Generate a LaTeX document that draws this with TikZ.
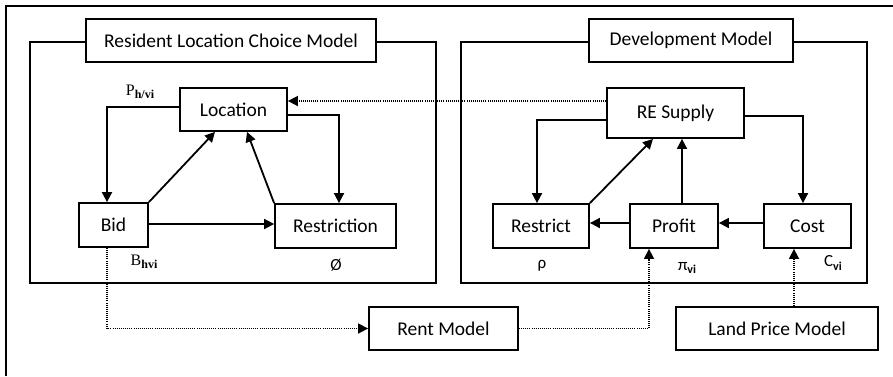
\documentclass[tikz,border=0pt]{standalone}
\usepackage{fontspec}
\setmainfont{Carlito}
\newfontfamily\seriffont{Liberation Serif}
\usetikzlibrary{arrows.meta,calc}
\newcommand{\subsc}[1]{\raisebox{-0.45ex}{\fontsize{12}{13}\selectfont\bfseries #1}}
\begin{document}
\begin{tikzpicture}[x=1pt,y=-1pt,
  box/.style={draw=black,line width=1.8pt,fill=white,inner sep=0pt,font=\fontsize{19.5}{22}\selectfont},
  grp/.style={draw=black,line width=1.8pt},
  arr/.style={line width=1.8pt,-{Triangle[length=10pt,width=10pt]}},
  dotl/.style={line width=1.6pt,dash pattern=on 1pt off 1.1pt},
  dotarr/.style={dotl,-{Triangle[length=10pt,width=10pt]}},
  lab/.style={inner sep=0pt,font=\fontsize{17}{19}\selectfont},
  slab/.style={inner sep=0pt,font=\seriffont\fontsize{16}{18}\selectfont}]
\useasboundingbox (0,0) rectangle (893,376);
% outer (cropped) frame
\draw[line width=1.8pt] (6,376) -- (6,6) -- (893,6);
% group boxes
\draw[grp] (30,42) rectangle (436,283);
\draw[grp] (461,42) rectangle (867,283);
% titles
\node[box,minimum width=290,minimum height=43] (titleL) at (231,40.5) {Resident Location Choice Model};
\node[box,minimum width=204,minimum height=43] (titleR) at (691,40.5) {Development Model};
% left model nodes
\node[box,minimum width=107,minimum height=43] (loc) at (233.5,109.5) {Location};
\node[box,minimum width=69,minimum height=44] (bid) at (113.5,225) {Bid};
\node[box,minimum width=121,minimum height=44] (restr) at (335.5,226) {Restriction};
% right model nodes
\node[box,minimum width=137,minimum height=50] (supply) at (675.5,113) {RE Supply};
\node[box,minimum width=96,minimum height=44] (restrict) at (541,226) {Restrict};
\node[box,minimum width=88,minimum height=44] (profit) at (674,226) {Profit};
\node[box,minimum width=87,minimum height=44] (cost) at (807.5,226) {Cost};
% bottom nodes
\node[box,minimum width=149,minimum height=43] (rent) at (443.5,328.5) {Rent Model};
\node[box,minimum width=202,minimum height=43] (land) at (777,328.5) {Land Price Model};
% labels
\node[slab] (lP) at (140,92) {P\subsc{h/vi}};
\node[slab] (lB) at (144,262) {B\subsc{hvi}};
\node[lab] (lO) at (336,265) {Ø};
\node[lab] (lrho) at (542,266) {ρ};
\node[lab] (lpi) at (687,268) {π\subsc{vi}};
\node[lab] (lC) at (833,263) {C\subsc{vi}};
% left connectors
\draw[arr] ([yshift=2.5pt]loc.west) -| ([xshift=-6.5pt]bid.north);
\draw[arr] ([yshift=-5.5pt]loc.east) -| ([xshift=3.5pt]restr.north);
\draw[arr] (bid.north east) -- ([xshift=-18.5pt]loc.south);
\draw[arr] (restr.north west) -- ([xshift=13.5pt]loc.south);
\draw[arr] ([yshift=1pt]bid.east) -- ([yshift=1pt]bid.east -| restr.west);
% right connectors
\draw[arr] ([yshift=-7pt]supply.west) -| ([xshift=-4pt]restrict.north);
\draw[arr] ([yshift=-3pt]supply.east) -| ([xshift=-4.5pt]cost.north);
\draw[arr] (restrict.north east) -- ([xshift=-22.5pt]supply.south);
\draw[arr] ([xshift=8pt]profit.north) -- ([xshift=8pt]profit.north |- supply.south);
\draw[arr] ([yshift=3pt]cost.west) -- ([yshift=3pt]cost.west -| profit.east);
\draw[arr] ([yshift=3pt]profit.west) -- ([yshift=3pt]profit.west -| restrict.east);
% dotted connectors
\draw[dotarr] ([yshift=12pt]supply.west) -- ([yshift=12pt]supply.west -| loc.east);
\draw[dotarr] ([xshift=-6.5pt]bid.south) |- (rent.west);
\draw[dotarr] (rent.east) -| ([xshift=-25pt]profit.south);
\draw[dotarr] ([xshift=17pt]land.north) -- ([xshift=17pt]land.north |- cost.south);
\end{tikzpicture}
\end{document}
